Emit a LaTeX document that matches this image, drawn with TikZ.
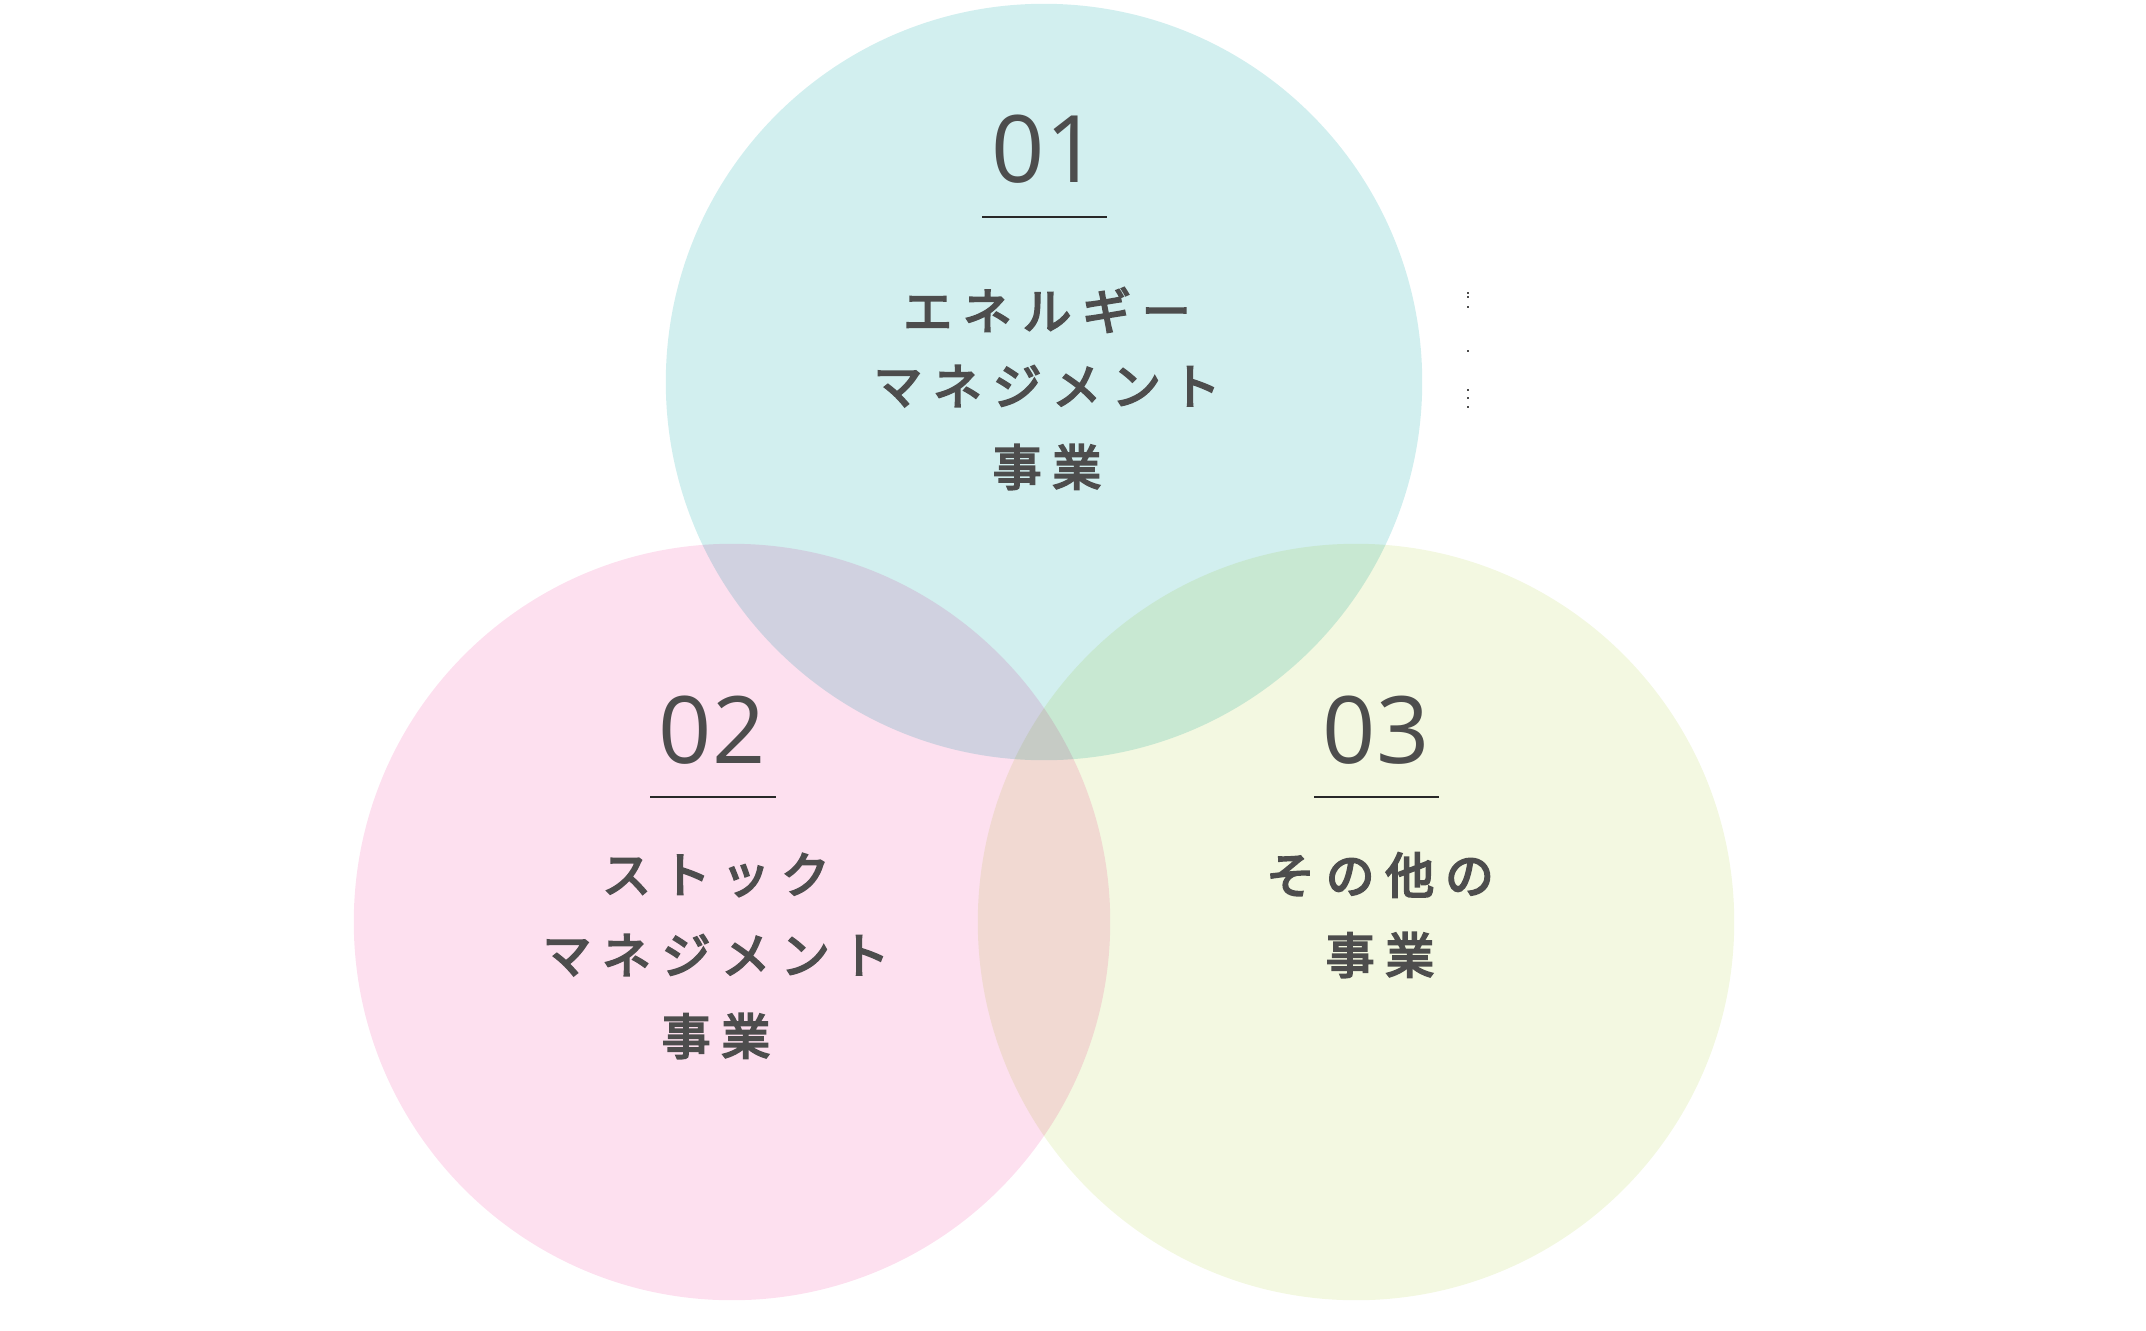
\documentclass[tikz,border=0pt]{standalone}
\usepackage{fontspec}
\setmainfont{Open Sans}
\newfontfamily\jpfont{Noto Sans CJK JP}[LetterSpace=22, FakeBold=4]
\usetikzlibrary{positioning}
\definecolor{bubblecyan}{RGB}{210,239,239}
\definecolor{bubblepink}{RGB}{253,224,239}
\definecolor{bubblegreen}{RGB}{243,248,225}
\definecolor{inkgray}{RGB}{77,77,77}
\definecolor{rulegray}{RGB}{40,40,40}

\begin{document}
\begin{tikzpicture}[x=0.01cm, y=-0.01cm,
  bubble/.style={circle, minimum size=7.56cm, inner sep=0pt, draw=none},
  numlbl/.style={font=\fontsize{26.5}{30}\selectfont, text=inkgray, inner sep=0pt},
  jplbl/.style={font=\jpfont\fontsize{13.9}{16}\selectfont, text=inkgray, inner sep=0pt},
  rule/.style={line width=0.35pt, draw=rulegray}
]
\useasboundingbox (0,0) rectangle (2146,1330);

% three circles, multiplied where they overlap
\begin{scope}[blend group=multiply]
\node[bubble, fill=bubblecyan] (c1) at (1044,382) {};
\node[bubble, fill=bubblepink] (c2) at (732,922) {};
\node[bubble, fill=bubblegreen] (c3) at (1356,922) {};
\end{scope}

% 01
\node[numlbl] (n1) at (1045,149) {01};
\coordinate (u1a) at (982,217); \coordinate (u1b) at (1107,217);
\draw[rule] (u1a)--(u1b);
\node[jplbl] (t1a) at (1047,310) {エネルギー};
\node[jplbl] (t1b) at (1047,386) {マネジメント};
\node[jplbl] (t1c) at (1047,467) {事業};

% 02
\node[numlbl] (n2) at (712,730) {02};
\coordinate (u2a) at (650,797); \coordinate (u2b) at (776,797);
\draw[rule] (u2a)--(u2b);
\node[jplbl] (t2a) at (716,875) {ストック};
\node[jplbl] (t2b) at (716,955) {マネジメント};
\node[jplbl] (t2c) at (716,1036) {事業};

% 03
\node[numlbl] (n3) at (1376,730) {03};
\coordinate (u3a) at (1314,797); \coordinate (u3b) at (1439,797);
\draw[rule] (u3a)--(u3b);
\node[jplbl] (t3a) at (1380,875) {その他の};
\node[jplbl] (t3b) at (1380,955) {事業};

% stray marks right of circle 01
\foreach \yy in {292,296,306,350,389,397,406}
  \fill[inkgray] (1467,\yy) rectangle +(1.5,2);
\end{tikzpicture}
\end{document}
